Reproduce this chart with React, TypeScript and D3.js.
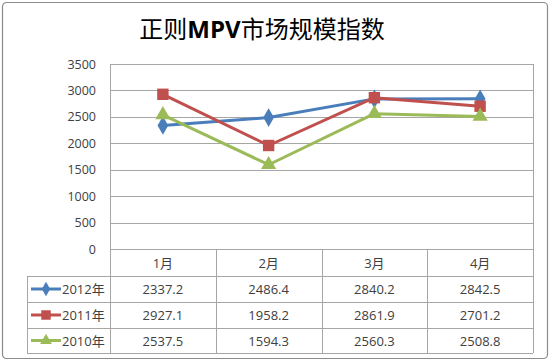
import React, { useRef, useEffect } from 'react';
import * as d3 from 'd3';

const months = ['1月', '2月', '3月', '4月'];
const seriesNames = ['2012年', '2011年', '2010年'];
const values2012 = [2337.2, 2486.4, 2840.2, 2842.5];
const values2011 = [2927.1, 1958.2, 2861.9, 2701.2];
const values2010 = [2537.5, 1594.3, 2560.3, 2508.8];
const yTicks = [0, 500, 1000, 1500, 2000, 2500, 3000, 3500];
const colors = ['#4A7EBB', '#C0504D', '#9BBB59'];
const markers = ['diamond', 'square', 'triangle'];

const FONT = "'Open Sans', 'Noto Sans CJK SC', sans-serif";

function markerPath(kind: string, size: number) {
  const sym =
    kind === 'diamond' ? d3.symbolDiamond : kind === 'square' ? d3.symbolSquare : d3.symbolTriangle;
  return d3.symbol().type(sym).size(size)()!;
}

export default function App() {
  const ref = useRef<SVGSVGElement>(null);
  const width = 550;
  const height = 361;

  useEffect(() => {
    const svg = d3.select(ref.current);
    svg.selectAll('*').remove();

    const series = [values2012, values2011, values2010];
    const plot = { left: 110, right: 533, top: 64, bottom: 249 };
    const tableLeft = 27;
    const rowEdges = [249, 276, 302, 328, 353];

    // outer frame
    svg
      .append('rect')
      .attr('x', 2.5)
      .attr('y', 2.5)
      .attr('width', width - 5)
      .attr('height', height - 5)
      .attr('rx', 4)
      .attr('fill', '#fff')
      .attr('stroke', '#8c8c8c')
      .attr('stroke-width', 1.2);

    const title = svg
      .append('text')
      .attr('x', 262)
      .attr('y', 38)
      .attr('text-anchor', 'middle')
      .attr('font-family', FONT)
      .attr('font-size', 24)
      .attr('fill', '#000');
    title.append('tspan').text('正则');
    title.append('tspan').attr('font-weight', 'bold').text('MPV');
    title.append('tspan').text('市场规模指数');

    const x = d3.scaleBand().domain(months).range([plot.left, plot.right]);
    const y = d3.scaleLinear().domain([0, 3500]).range([plot.bottom, plot.top]);

    // gridlines
    svg
      .append('g')
      .selectAll('line')
      .data(yTicks)
      .enter()
      .append('line')
      .attr('x1', plot.left)
      .attr('x2', plot.right)
      .attr('y1', (d) => Math.round(y(d)) + 0.5)
      .attr('y2', (d) => Math.round(y(d)) + 0.5)
      .attr('stroke', '#a6a6a6')
      .attr('stroke-width', 1);

    // plot frame sides
    [plot.left, plot.right].forEach((px) => {
      svg
        .append('line')
        .attr('x1', px + 0.5)
        .attr('x2', px + 0.5)
        .attr('y1', plot.top)
        .attr('y2', plot.bottom)
        .attr('stroke', '#a6a6a6');
    });

    // y labels
    svg
      .append('g')
      .selectAll('text')
      .data(yTicks)
      .enter()
      .append('text')
      .attr('x', 96)
      .attr('y', (d) => y(d) + 4.5)
      .attr('text-anchor', 'end')
      .attr('font-family', FONT)
      .attr('font-size', 12.5)
      .attr('fill', '#404040')
      .text((d) => d);

    // table grid
    const tg = svg.append('g').attr('stroke', '#a6a6a6').attr('stroke-width', 1);
    const colEdges = [plot.left, ...months.map((m) => (x(m) as number) + x.bandwidth())];
    colEdges.forEach((cx) => {
      tg.append('line')
        .attr('x1', Math.round(cx) + 0.5)
        .attr('x2', Math.round(cx) + 0.5)
        .attr('y1', rowEdges[0])
        .attr('y2', rowEdges[4]);
    });
    rowEdges.forEach((ry, i) => {
      tg.append('line')
        .attr('x1', i === 0 ? plot.left : tableLeft)
        .attr('x2', plot.right)
        .attr('y1', ry + 0.5)
        .attr('y2', ry + 0.5);
    });
    tg.append('line')
      .attr('x1', tableLeft + 0.5)
      .attr('x2', tableLeft + 0.5)
      .attr('y1', rowEdges[1])
      .attr('y2', rowEdges[4]);

    // month headers
    svg
      .append('g')
      .selectAll('text')
      .data(months)
      .enter()
      .append('text')
      .attr('x', (d) => (x(d) as number) + x.bandwidth() / 2)
      .attr('y', (rowEdges[0] + rowEdges[1]) / 2 + 5)
      .attr('text-anchor', 'middle')
      .attr('font-family', FONT)
      .attr('font-size', 13)
      .attr('fill', '#404040')
      .text((d) => d);

    // lines + markers
    const line = d3
      .line<number>()
      .x((_, i) => (x(months[i]) as number) + x.bandwidth() / 2)
      .y((d) => y(d));

    series.forEach((vals, si) => {
      const g = svg.append('g');
      g.append('path')
        .attr('d', line(vals))
        .attr('fill', 'none')
        .attr('stroke', colors[si])
        .attr('stroke-width', 3)
        .attr('stroke-linejoin', 'round');
      g.selectAll('path.m')
        .data(vals)
        .enter()
        .append('path')
        .attr('class', 'm')
        .attr('d', markerPath(markers[si], si === 1 ? 130 : 100))
        .attr(
          'transform',
          (d, i) => `translate(${(x(months[i]) as number) + x.bandwidth() / 2},${y(d)})`
        )
        .attr('fill', colors[si]);

      // table row
      const rowMid = (rowEdges[si + 1] + rowEdges[si + 2]) / 2;
      g.append('line')
        .attr('x1', 31)
        .attr('x2', 61)
        .attr('y1', rowMid)
        .attr('y2', rowMid)
        .attr('stroke', colors[si])
        .attr('stroke-width', 3);
      g.append('path')
        .attr('d', markerPath(markers[si], si === 1 ? 90 : 60))
        .attr('transform', `translate(46,${rowMid})`)
        .attr('fill', colors[si]);
      g.append('text')
        .attr('x', 62)
        .attr('y', rowMid + 5)
        .attr('font-family', FONT)
        .attr('font-size', 13)
        .attr('fill', '#404040')
        .text(seriesNames[si]);
      g.selectAll('text.v')
        .data(vals)
        .enter()
        .append('text')
        .attr('class', 'v')
        .attr('x', (_, i) => (x(months[i]) as number) + x.bandwidth() / 2)
        .attr('y', rowMid + 5)
        .attr('text-anchor', 'middle')
        .attr('font-family', FONT)
        .attr('font-size', 13)
        .attr('fill', '#404040')
        .text((d) => d.toFixed(1));
    });
  }, []);

  return (
    <svg
      ref={ref}
      width={width}
      height={height}
      style={{ position: 'absolute', left: 0, top: 0, display: 'block' }}
    ></svg>
  );
}
